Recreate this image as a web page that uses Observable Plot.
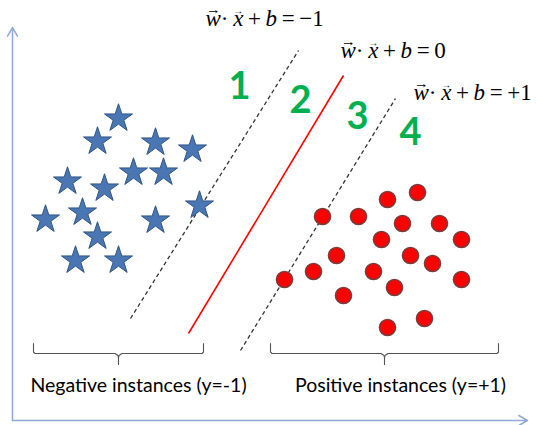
<!DOCTYPE html>
<html>
<head>
<meta charset="utf-8">
<script src="https://cdn.jsdelivr.net/npm/d3@7"></script>
<script src="https://cdn.jsdelivr.net/npm/@observablehq/plot@0.6"></script>
<style>
  html, body { margin: 0; padding: 0; background: #fff; }
  #chart svg { display: block; }
</style>
</head>
<body>
<div id="chart"></div>
<script>
// Negative instances (stars)
const starX = [10.6, 8.5, 14.3, 18.0, 5.5, 9.2, 12.1, 15.1, 18.7, 3.3, 7.0, 14.3, 8.5, 6.3, 10.6];
const starY = [30.2, 27.9, 27.8, 27.1, 23.9, 23.2, 24.8, 24.8, 21.5, 20.1, 20.8, 20.0, 18.4, 16.0, 16.0];
// Positive instances (circles)
const circX = [40.5, 37.5, 31.0, 34.6, 39.0, 42.7, 36.9, 44.9, 32.4, 39.8, 42.0, 30.1, 36.1, 27.2, 38.2, 44.9, 33.1, 41.2, 37.5];
const circY = [22.8, 22.1, 20.4, 20.4, 19.7, 19.7, 18.1, 18.1, 16.5, 16.5, 15.7, 14.9, 14.9, 14.1, 13.3, 14.1, 12.5, 10.2, 9.3];
// Lines: negative margin, hyperplane, positive margin
const lineNames = ["neg", "hyper", "pos"];
const lineX1 = [11.8, 17.6, 22.8];
const lineY1 = [10.2, 8.7, 7.0];
const lineX2 = [28.6, 33.1, 38.3];
const lineY2 = [37.0, 34.5, 32.2];
// Equation labels (vector letters marked with ^ after them)
const eqText = ["w^\u00B7 x^ + b = \u22121", "w^\u00B7 x^ + b = 0", "w^\u00B7 x^ + b = +1"];
const eqX = [19.3, 32.8, 40.1];
const eqY = [40.2, 37.0, 32.8];
// Region numbers
const regionText = ["1", "2", "3", "4"];
const regionX = [22.7, 28.8, 34.5, 39.8];
const regionY = [33.4, 32.0, 30.4, 28.8];
// Braces and captions
const braceX1 = [2.1, 25.8];
const braceX2 = [19.1, 48.6];
const braceXc = [10.6, 37.2];
const captions = ["Negative instances (y=-1)", "Positive instances (y=+1)"];
const captionX = [12.6, 38.8];
const captionY = [3.5, 3.5];
// Axes
const axisTipX = [0, 51.5];
const axisTipY = [39.3, 0];

const stars = starX.map((x, i) => ({x, y: starY[i]}));
const circles = circX.map((x, i) => ({x, y: circY[i]}));
const lines = lineNames.map((n, i) => ({n, x1: lineX1[i], y1: lineY1[i], x2: lineX2[i], y2: lineY2[i]}));
const eqs = eqText.map((t, i) => ({t, x: eqX[i], y: eqY[i]}));
const regions = regionText.map((t, i) => ({t, x: regionX[i], y: regionY[i]}));
const caps = captions.map((t, i) => ({t, x: captionX[i], y: captionY[i]}));
const axes = axisTipX.map((x, i) => ({x1: 0, y1: 0, x2: x, y2: axisTipY[i]}));

// brace polylines
const braceTop = 7.7, braceMid = 6.7, braceTip = 5.6;
const braces = [];
braceX1.forEach((x1, i) => {
  const x2 = braceX2[i], xc = braceXc[i];
  const pts = [
    [x1, braceTop], [x1, braceMid + 0.15], [x1 + 0.15, braceMid],
    [xc - 0.35, braceMid], [xc - 0.05, braceMid - 0.2], [xc, braceMid - 0.4], [xc, braceTip]
  ];
  const pts2 = [
    [x2, braceTop], [x2, braceMid + 0.15], [x2 - 0.15, braceMid],
    [xc + 0.35, braceMid], [xc + 0.05, braceMid - 0.2], [xc, braceMid - 0.4]
  ];
  pts.forEach(([x, y]) => braces.push({x, y, g: "b" + i + "a"}));
  pts2.forEach(([x, y]) => braces.push({x, y, g: "b" + i + "b"}));
});

const chart = Plot.plot({
  width: 543,
  height: 425,
  margin: 0,
  x: {domain: [-1.2, 53.1], axis: null},
  y: {domain: [-0.5, 42], axis: null},
  marks: [
    Plot.arrow(axes, {x1: "x1", y1: "y1", x2: "x2", y2: "y2", stroke: "#8eaadb", strokeWidth: 1.5, headLength: 10, bend: 0}),
    Plot.link(lines.filter(d => d.n !== "hyper"), {x1: "x1", y1: "y1", x2: "x2", y2: "y2", stroke: "#333", strokeWidth: 1.3, strokeDasharray: "4,3"}),
    Plot.link(lines.filter(d => d.n === "hyper"), {x1: "x1", y1: "y1", x2: "x2", y2: "y2", stroke: "#ff0000", strokeWidth: 1.6}),
    Plot.line(braces, {x: "x", y: "y", z: "g", stroke: "#555", strokeWidth: 1.1}),
    Plot.dot(stars, {x: "x", y: "y", symbol: "star", r: 8.8, fill: "#4a76b3", stroke: "#2f5587", strokeWidth: 1}),
    Plot.dot(circles, {x: "x", y: "y", r: 8, fill: "#ff0000", stroke: "#7d3a3a", strokeWidth: 1.6}),
    Plot.text(regions, {x: "x", y: "y", text: "t", fill: "#00b050", fontSize: 38, fontWeight: "bold", fontFamily: "Lato"}),
    Plot.text(eqs, {x: "x", y: "y", text: "t", textAnchor: "start", fill: "#000", fontSize: 23, fontFamily: "Liberation Serif", className: "eq"}),
    Plot.text(caps, {x: "x", y: "y", text: "t", fill: "#000", fontSize: 19.5, fontFamily: "Lato"})
  ]
});

document.getElementById("chart").appendChild(chart);

// rebuild equation labels: italic variables with vector arrows above
d3.select(chart).selectAll(".eq text").each(function () {
  const chars = Array.from(this.textContent.replace(/ /g, "\u2009"));
  const sel = d3.select(this);
  sel.text(null);
  let pendingDx = null;
  for (let i = 0; i < chars.length; i++) {
    const c = chars[i];
    if (c === "^") continue;
    const italic = /[a-z]/.test(c);
    const t = sel.append("tspan").attr("font-style", italic ? "italic" : "normal").text(c);
    if (pendingDx !== null) { t.attr("dx", pendingDx).attr("dy", 12); pendingDx = null; }
    if (chars[i + 1] === "^") {
      const ww = t.node().getComputedTextLength();
      const a = sel.append("tspan").attr("font-style", "normal").attr("font-size", 10).text("\u2192");
      const wa10 = a.node().getComputedTextLength();
      const fs = 10 * (ww * 0.95) / wa10;
      a.attr("font-size", fs);
      const wa = a.node().getComputedTextLength();
      a.attr("dx", -(ww + wa) / 2).attr("dy", -12);
      pendingDx = (ww - wa) / 2;
    }
  }
});
</script>
</body>
</html>
